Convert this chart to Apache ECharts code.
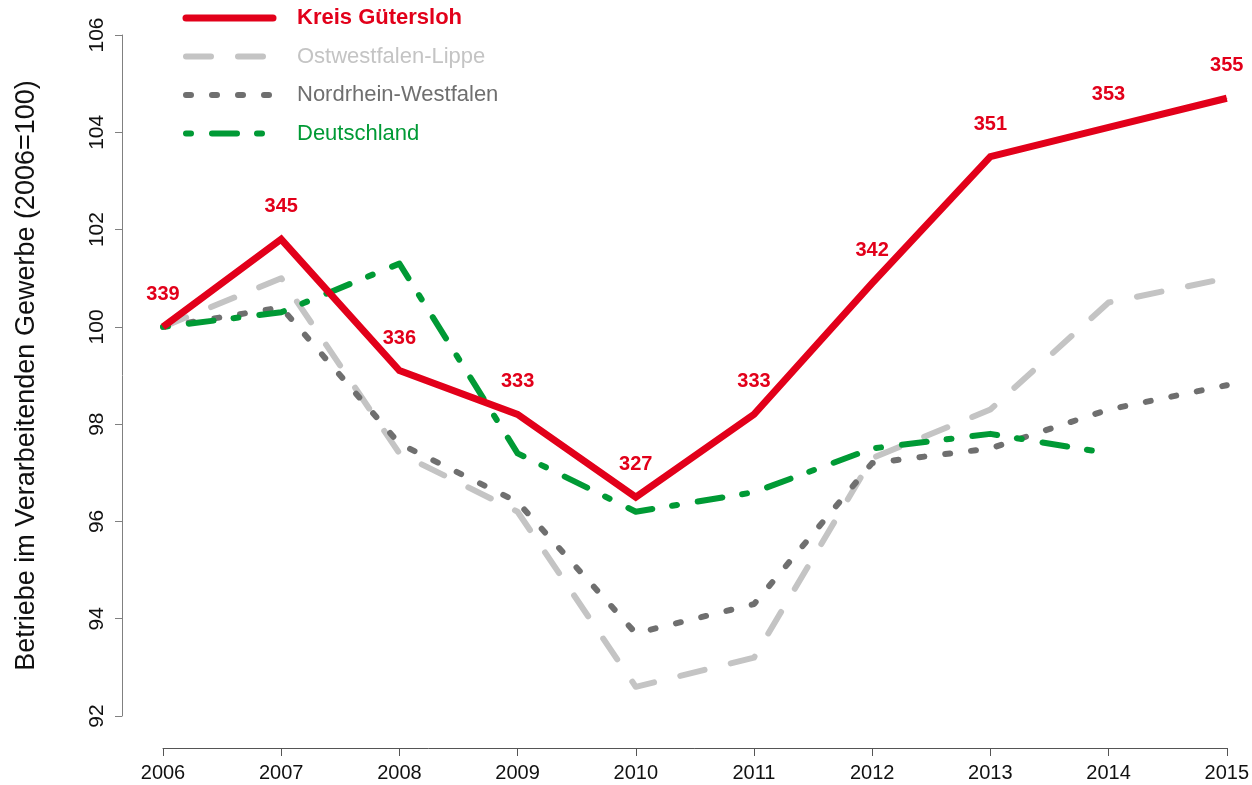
<!DOCTYPE html>
<html>
<head>
<meta charset="utf-8">
<script src="https://cdn.jsdelivr.net/npm/echarts@6/dist/echarts.min.js"></script>
<style>
  html, body { margin: 0; padding: 0; background: #fff; }
  #chart { width: 1252px; height: 785px; }
</style>
</head>
<body>
<div id="chart"></div>
<script>
const years = ["2006", "2007", "2008", "2009", "2010", "2011", "2012", "2013", "2014", "2015"];
// index 2006=100
const guetersloh = [100, 101.8, 99.1, 98.2, 96.5, 98.2, 100.9, 103.5, 104.1, 104.7];
const owl = [100, 101.0, 97.4, 96.2, 92.6, 93.2, 97.3, 98.3, 100.5, 101.0];
const nrw = [100, 100.4, 97.6, 96.4, 93.7, 94.3, 97.2, 97.5, 98.3, 98.8];
const deutschland = [100, 100.3, 101.3, 97.4, 96.2, 96.6, 97.5, 97.8, 97.4, null];
// absolute Betriebe, Kreis Gütersloh
const gueterslohAbs = [339, 345, 336, 333, 327, 333, 342, 351, 353, 355];

const red = "#e2001a";
const lightGray = "#c4c4c4";
const darkGray = "#6f6f6f";
const green = "#009a35";
const font = "Liberation Sans, Arial, sans-serif";

// line styles shared by plot and legend
const styles = [
  { name: "Kreis Gütersloh", color: red, width: 7, dash: null, bold: true },
  { name: "Ostwestfalen-Lippe", color: lightGray, width: 6, dash: [25, 27] },
  { name: "Nordrhein-Westfalen", color: darkGray, width: 6, dash: [5, 21] },
  { name: "Deutschland", color: green, width: 6, dash: [5, 21, 25, 20] },
];

// hand-made legend (echarts legend icons can't show the thick dashes)
const legendItems = [];
styles.forEach((s, i) => {
  const y = 18 + i * 38.5;
  legendItems.push({
    type: "line",
    shape: { x1: 186, y1: y, x2: 273, y2: y },
    style: { stroke: s.color, lineWidth: s.width, lineDash: s.dash, lineCap: "round" },
  });
  legendItems.push({
    type: "text",
    x: 297,
    y: y,
    style: {
      text: s.name,
      fill: s.color,
      font: (s.bold ? "bold " : "") + "22px " + font,
      verticalAlign: "middle",
    },
  });
});

function lineSeries(s, data) {
  return {
    name: s.name,
    type: "line",
    data: data,
    symbol: "none",
    lineStyle: { color: s.color, width: s.width, type: s.dash || "solid", cap: "round", join: "round" },
    itemStyle: { color: s.color },
  };
}

const myChart = echarts.init(document.getElementById("chart"));
const redSeries = lineSeries(styles[0], guetersloh);
redSeries.symbol = "circle";
redSeries.symbolSize = 1;
redSeries.lineStyle.cap = "butt";
redSeries.lineStyle.join = "miter";
redSeries.label = {
  show: true,
  position: "top",
  distance: 22,
  color: red,
  fontWeight: "bold",
  fontSize: 20,
  fontFamily: font,
  formatter: (p) => gueterslohAbs[p.dataIndex],
};

const option = {
  animation: false,
  grid: { left: 163, right: 25, top: 35, bottom: 69 },
  graphic: legendItems,
  xAxis: {
    type: "category",
    data: years,
    boundaryGap: false,
    offset: 32,
    axisLine: { lineStyle: { color: "#555", width: 1 } },
    axisTick: { show: true, length: 8, lineStyle: { color: "#555" } },
    axisLabel: { color: "#111", fontSize: 20, fontFamily: font, margin: 15 },
    splitLine: { show: false },
  },
  yAxis: {
    type: "value",
    min: 92,
    max: 106,
    interval: 2,
    offset: 41,
    name: "Betriebe im Verarbeitenden Gewerbe (2006=100)",
    nameLocation: "middle",
    nameGap: 82,
    nameTextStyle: { color: "#111", fontSize: 27, fontFamily: font },
    axisLine: { show: true, lineStyle: { color: "#808080", width: 1 } },
    axisTick: { show: true, length: 7, lineStyle: { color: "#808080" } },
    axisLabel: { color: "#111", fontSize: 21, fontFamily: font, rotate: 90, margin: 14 },
    splitLine: { show: false },
  },
  series: [
    lineSeries(styles[1], owl),
    lineSeries(styles[2], nrw),
    lineSeries(styles[3], deutschland),
    redSeries,
  ],
};
myChart.setOption(option);
</script>
</body>
</html>
